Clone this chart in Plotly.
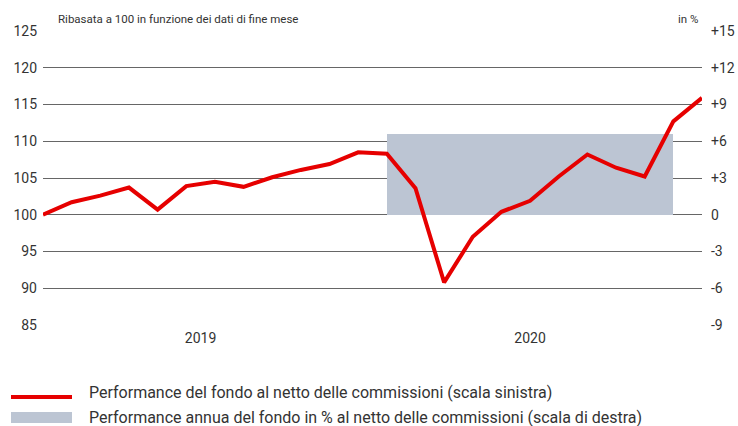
import plotly.graph_objects as go

# Data
month_index = list(range(24))
fund_perf = [100.0, 101.7, 102.6, 103.7, 100.7, 103.9, 104.5, 103.8, 105.1, 106.1,
             106.9, 108.5, 108.3, 103.6, 90.8, 97.0, 100.4, 101.9, 105.2, 108.2,
             106.4, 105.2, 112.7, 115.9]
annual_years = ["2020"]
annual_start = [12]
annual_end = [22]
annual_perf = [6.6]
year_labels = ["2019", "2020"]
year_pos = [5.5, 17]
left_ticks = [85, 90, 95, 100, 105, 110, 115, 120, 125]
right_ticks = [-9, -6, -3, 0, 3, 6, 9, 12, 15]
right_ticktext = ["-9", "-6", "-3", "0", "+3", "+6", "+9", "+12", "+15"]

FONT = "Roboto, Open Sans, sans-serif"
RED = "#e60000"
GREY = "#bcc5d3"
TEXT = "#333333"

fig = go.Figure()
# bar on primary (right-side, percent) axis, drawn below the line
fig.add_trace(go.Bar(
    x=[(s + e) / 2 for s, e in zip(annual_start, annual_end)],
    y=annual_perf,
    width=[e - s for s, e in zip(annual_start, annual_end)],
    marker=dict(color=GREY, line=dict(width=0)),
    yaxis="y", name="Performance annua", showlegend=False,
))
# line on overlaying (left-side) axis
fig.add_trace(go.Scatter(
    x=month_index, y=fund_perf, mode="lines",
    line=dict(color=RED, width=4), yaxis="y2", name="Performance",
    showlegend=False,
))

fig.update_layout(
    width=738, height=426,
    margin=dict(l=43, r=36, t=31, b=101, autoexpand=False),
    plot_bgcolor="white", paper_bgcolor="white",
    font=dict(family=FONT, size=14, color=TEXT),
    xaxis=dict(range=[0, 23], tickvals=year_pos, ticktext=year_labels,
               showgrid=False, zeroline=False, showline=False, ticks="",
               tickfont=dict(size=14), automargin=False, ticklabelstandoff=3),
    yaxis=dict(range=[-9, 15], tickvals=right_ticks, ticktext=right_ticktext,
               side="right", showgrid=True, gridcolor="#666", gridwidth=1.2,
               zeroline=False, ticks="", tickfont=dict(size=14),
               ticklabelstandoff=8, automargin=False),
    yaxis2=dict(range=[85, 125], tickvals=left_ticks, overlaying="y",
                side="left", showgrid=False, zeroline=False, ticks="",
                tickfont=dict(size=14), ticklabelstandoff=5, automargin=False),
    bargap=0,
)

fig.add_annotation(xref="paper", yref="paper", x=(56 - 43) / 659, y=1, yshift=3,
                   xanchor="left", yanchor="bottom", showarrow=False,
                   text="Ribasata a 100 in funzione dei dati di fine mese",
                   font=dict(size=11.5))
fig.add_annotation(xref="paper", yref="paper", x=(700 - 43) / 659, y=1, yshift=3,
                   xanchor="right", yanchor="bottom", showarrow=False,
                   text="in %", font=dict(size=11.5))

# legend
fig.add_shape(type="line", xref="paper", yref="paper",
              x0=(11 - 43) / 659, x1=(72 - 43) / 659,
              y0=(325 - 397) / 294, y1=(325 - 397) / 294,
              line=dict(color=RED, width=4))
fig.add_shape(type="rect", xref="paper", yref="paper",
              x0=(11 - 43) / 659, x1=(72 - 43) / 659,
              y0=(325 - 412) / 294, y1=(325 - 423) / 294,
              fillcolor=GREY, line=dict(width=0))
fig.add_annotation(xref="paper", yref="paper", x=(87 - 43) / 659,
                   y=(325 - 392) / 294, xanchor="left", yanchor="middle",
                   showarrow=False, font=dict(size=16),
                   text="Performance del fondo al netto delle commissioni (scala sinistra)")
fig.add_annotation(xref="paper", yref="paper", x=(87 - 43) / 659,
                   y=(325 - 417) / 294, xanchor="left", yanchor="middle",
                   showarrow=False, font=dict(size=16),
                   text="Performance annua del fondo in % al netto delle commissioni (scala di destra)")

fig.write_html("out.html", config={"displayModeBar": False},
               post_script="document.body.style.margin='0';")
